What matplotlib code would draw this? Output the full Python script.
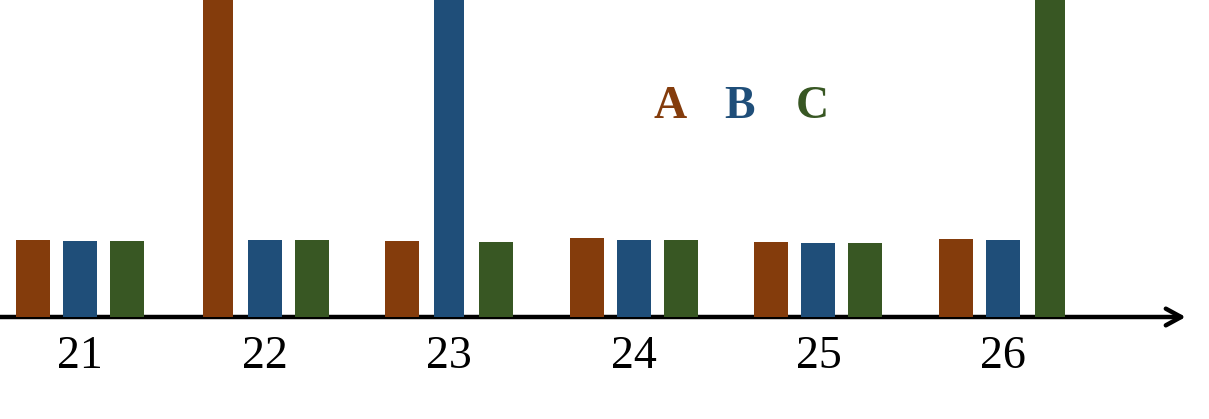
import numpy as np
import matplotlib
matplotlib.use("Agg")
import matplotlib.pyplot as plt

# data (arbitrary units, tall bars run off the top)
categories = ["21", "22", "23", "24", "25", "26"]
series = ["A", "B", "C"]
a_vals = [7.7, 40, 7.6, 7.9, 7.5, 7.8]
b_vals = [7.6, 7.7, 40, 7.7, 7.4, 7.7]
c_vals = [7.6, 7.7, 7.5, 7.7, 7.4, 40]
colors = ["#843C0C", "#1F4E79", "#385723"]

plt.rcParams["font.family"] = ["Liberation Serif", "DejaVu Serif"]

fig = plt.figure(figsize=(12.09, 4.19), dpi=100)
ax = fig.add_axes([0, 0, 1, 1])
ax.set_xlim(-0.4334, 6.116)
ax.set_ylim(-10.2, 31.7)
ax.axis("off")

x = np.arange(len(categories))
offset = 0.2546
for k, (vals, col) in enumerate(zip([a_vals, b_vals, c_vals], colors)):
    w = [0.163 if v > 20 else 0.184 for v in vals]
    ax.bar(x + (k - 1) * offset, vals, width=w, color=col, zorder=3)

# x axis with arrow
ax.annotate("", xy=(5.99, 0), xytext=(-0.45, 0),
            arrowprops=dict(arrowstyle="->,head_length=1.1,head_width=0.6",
                            lw=3.2, color="black", shrinkA=0, shrinkB=0),
            zorder=2)

for xi, lab in zip(x, categories):
    ax.text(xi, -4.0, lab, ha="center", va="center", fontsize=33, color="black")

# series labels
for xs, name, col in zip([3.196, 3.57, 3.965], series, colors):
    ax.text(xs, 21.0, name, ha="center", va="center", fontsize=33,
            fontweight="bold", color=col)

fig.savefig("out.png", dpi=100)
